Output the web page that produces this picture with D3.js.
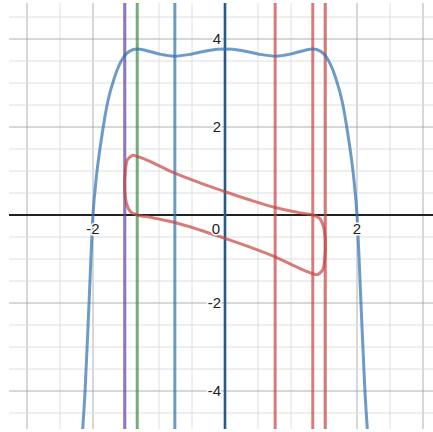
<!DOCTYPE html>
<html>
<head>
<meta charset="utf-8">
<script src="https://cdn.jsdelivr.net/npm/d3@7"></script>
<style>
  body { margin: 0; background: #fff; }
  svg { display: block; }
</style>
</head>
<body>
<div id="graphe"></div>
<script>
// courbe bleue (polynome)
const courbeX = [-2.16, -2.12, -2.06, -2.0, -1.95, -1.9, -1.85, -1.78, -1.67, -1.54, -1.45, -1.33, -1.2, -1.0, -0.77, -0.5, -0.25, 0,
                 0.25, 0.5, 0.77, 1.0, 1.2, 1.33, 1.45, 1.54, 1.67, 1.78, 1.85, 1.9, 1.95, 2.0, 2.06, 2.12, 2.16];
const courbeY = [-4.95, -4.0, -2.0, 0, 0.85, 1.45, 1.95, 2.55, 3.15, 3.58, 3.72, 3.77, 3.74, 3.66, 3.61, 3.66, 3.74, 3.77,
                 3.74, 3.66, 3.61, 3.66, 3.74, 3.77, 3.72, 3.58, 3.15, 2.55, 1.95, 1.45, 0.85, 0, -2.0, -4.0, -4.95];

// boucle rouge (parcourue dans le sens horaire)
const boucleX = [-1.40, -1.2, -0.76, -0.38, 0, 0.38, 0.76, 1.1, 1.33,
                 1.43, 1.49, 1.52, 1.51, 1.48, 1.42,
                 1.40, 1.2, 0.76, 0.38, 0, -0.38, -0.76, -1.1, -1.33,
                 -1.43, -1.49, -1.52, -1.51, -1.48, -1.42];
const boucleY = [1.36, 1.26, 0.95, 0.73, 0.53, 0.34, 0.17, 0.06, 0.0,
                 -0.07, -0.25, -0.6, -1.0, -1.25, -1.34,
                 -1.36, -1.26, -0.95, -0.73, -0.53, -0.34, -0.17, -0.06, 0.0,
                 0.07, 0.25, 0.6, 1.0, 1.25, 1.34];

// droites verticales x = k
const verticalesX = [-1.52, -1.33, -0.76, 0, 0.76, 1.33, 1.52];
const verticalesCouleur = ["#6042a6", "#388c46", "#2d70b3", "#2d70b3", "#c74440", "#c74440", "#c74440"];

const graduationsX = [-2, 0, 2];
const graduationsY = [4, 2, -2, -4];

const largeur = 433, hauteur = 432;
const gauche = 9, droite = 433, haut = 3, bas = 429;

const x = d3.scaleLinear().domain([(gauche - 225) / 66, (droite - 225) / 66]).range([gauche, droite]);
const y = d3.scaleLinear().domain([(215 - haut) / 44, (215 - bas) / 44]).range([haut, bas]);

const svg = d3.select("#graphe").append("svg").attr("width", largeur).attr("height", hauteur);

svg.append("clipPath").attr("id", "zone").append("rect")
  .attr("x", gauche).attr("y", haut).attr("width", droite - gauche).attr("height", bas - haut);

const g = svg.append("g").attr("clip-path", "url(#zone)");

// quadrillage
const pasMineur = d3.range(-6, 6.01, 0.5);
g.selectAll(".vx").data(pasMineur).join("line")
  .attr("x1", d => x(d)).attr("x2", d => x(d)).attr("y1", haut).attr("y2", bas)
  .attr("stroke", d => d % 2 == 0 || Math.abs(d) == 3 ? "#b0b0b0" : "#dedede").attr("stroke-width", 1);
g.selectAll(".hy").data(pasMineur).join("line")
  .attr("x1", gauche).attr("x2", droite).attr("y1", d => y(d)).attr("y2", d => y(d))
  .attr("stroke", d => d % 2 == 0 ? "#b0b0b0" : "#dedede").attr("stroke-width", 1);

// axes
g.append("line").attr("x1", gauche).attr("x2", droite).attr("y1", y(0)).attr("y2", y(0))
  .attr("stroke", "#222").attr("stroke-width", 2);
g.append("line").attr("x1", x(0)).attr("x2", x(0)).attr("y1", haut).attr("y2", bas)
  .attr("stroke", "#222").attr("stroke-width", 2);

// etiquettes
const etiq = svg.append("g").attr("font-family", "Liberation Sans, Arial, sans-serif").attr("font-size", 15)
  .attr("fill", "#222").attr("stroke", "#fff").attr("stroke-width", 3).attr("paint-order", "stroke");
etiq.selectAll(".tx").data(graduationsX).join("text")
  .attr("x", d => d == 0 ? x(0) - 9 : x(d)).attr("y", y(0) + 19)
  .attr("text-anchor", "middle")
  .text(d => d < 0 ? "-" + Math.abs(d) : d);
etiq.selectAll(".ty").data(graduationsY).join("text")
  .attr("x", x(0) - 4).attr("y", d => y(d) + 5)
  .attr("text-anchor", "end")
  .text(d => d < 0 ? "-" + Math.abs(d) : d);

// verticales
g.selectAll(".vert").data(verticalesX).join("line")
  .attr("x1", d => x(d)).attr("x2", d => x(d)).attr("y1", haut).attr("y2", bas)
  .attr("stroke", (d, i) => verticalesCouleur[i]).attr("stroke-opacity", 0.7).attr("stroke-width", 3);

// courbe bleue
const ligne = d3.line().x(d => x(d[0])).y(d => y(d[1])).curve(d3.curveMonotoneX);
g.append("path").datum(courbeX.map((v, i) => [v, courbeY[i]]))
  .attr("d", ligne).attr("fill", "none")
  .attr("stroke", "#2d70b3").attr("stroke-opacity", 0.7).attr("stroke-width", 3);

// boucle rouge
const ligneFermee = d3.line().x(d => x(d[0])).y(d => y(d[1])).curve(d3.curveCatmullRomClosed.alpha(0.5));
g.append("path").datum(boucleX.map((v, i) => [v, boucleY[i]]))
  .attr("d", ligneFermee).attr("fill", "none")
  .attr("stroke", "#c74440").attr("stroke-opacity", 0.7).attr("stroke-width", 3);
</script>
</body>
</html>
